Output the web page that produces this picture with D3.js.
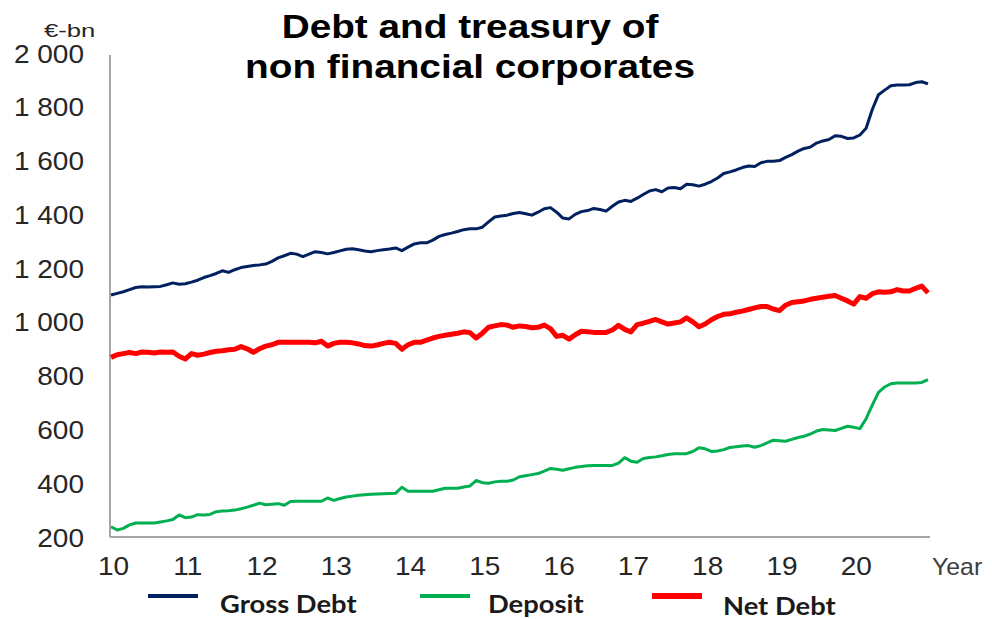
<!DOCTYPE html>
<html>
<head>
<meta charset="utf-8">
<script src="https://cdn.jsdelivr.net/npm/d3@7"></script>
<style>
  body { margin: 0; background: #fff; }
  .tick_label { font-family: "Liberation Sans", Arial, sans-serif; font-size: 25px; fill: #262626; }
  .title { font-family: "Liberation Sans", Arial, sans-serif; font-size: 34px; font-weight: bold; fill: #000; }
  .legend_label { font-family: Lato, "Open Sans", sans-serif; font-size: 24px; font-weight: bold; fill: #1a1a1a; }
</style>
</head>
<body>
<div id="vis"></div>
<script>
// monthly values, Jan 2010 -> Jan 2021 (EUR bn)
var gross_debt = [
  1100,1106,1112,1120,1128,1131,1130,1131,1132,1138,1145,1140,
  1142,1148,1155,1165,1172,1180,1190,1184,1194,1202,1206,1210,
  1212,1215,1225,1238,1246,1255,1252,1243,1252,1261,1258,1253,
  1258,1264,1270,1272,1268,1264,1261,1265,1268,1271,1275,1265,
  1278,1290,1294,1294,1304,1318,1325,1330,1336,1343,1346,1346,
  1352,1372,1390,1394,1397,1403,1407,1402,1397,1408,1421,1425,
  1408,1386,1383,1400,1410,1414,1422,1418,1412,1430,1446,1452,
  1448,1460,1474,1487,1492,1484,1498,1500,1495,1512,1510,1505,
  1512,1522,1535,1552,1558,1565,1574,1580,1578,1592,1597,1597,
  1600,1612,1622,1635,1645,1650,1665,1673,1678,1692,1690,1682,
  1684,1695,1720,1790,1845,1862,1878,1881,1881,1882,1890,1893,
  1885
];
var deposit = [
  238,226,232,245,252,252,252,252,256,260,265,282,
  272,274,283,282,284,294,297,298,300,305,311,318,
  326,320,322,324,318,332,333,333,333,333,333,345,
  336,343,349,352,355,357,359,360,361,362,363,385,
  370,370,370,370,370,376,381,381,381,386,390,410,
  402,400,405,407,407,412,424,428,432,436,445,455,
  452,448,454,459,462,465,466,466,466,466,475,495,
  482,478,492,496,498,502,507,510,510,510,518,532,
  528,518,520,525,533,536,538,540,534,540,550,560,
  558,556,563,570,575,583,594,600,598,596,604,612,
  608,603,640,690,738,758,770,773,773,773,773,775,
  785
];
var net_debt = [
  868,878,882,886,882,888,887,884,888,887,888,872,
  862,882,876,880,886,891,893,896,898,908,900,887,
  900,910,915,924,924,924,924,924,924,922,928,910,
  920,924,924,922,918,912,910,914,920,924,920,898,
  915,924,924,932,940,946,950,954,958,963,960,940,
  958,980,985,990,988,980,985,983,978,980,988,975,
  946,950,936,952,965,963,961,961,961,970,987,972,
  963,990,995,1002,1009,1000,992,996,1000,1015,1000,982,
  992,1008,1020,1028,1030,1036,1040,1046,1052,1057,1057,1048,
  1042,1062,1072,1075,1078,1084,1088,1092,1095,1098,1088,1078,
  1066,1094,1088,1105,1112,1110,1112,1120,1115,1115,1125,1133,
  1108
];
var year_ticks = [2010,2011,2012,2013,2014,2015,2016,2017,2018,2019,2020];
var year_labels = ["10","11","12","13","14","15","16","17","18","19","20"];
var value_ticks = [200,400,600,800,1000,1200,1400,1600,1800,2000];
var series_names = ["Gross Debt", "Deposit", "Net Debt"];
var series_colors = ["#002060", "#00b050", "#ff0000"];
var series_widths = [3, 3, 5];

var width = 992, height = 619;
var stretch = 1.12; // the source picture is a bit wider than tall

var svg = d3.select("#vis")
    .append("svg")
    .attr("width", width)
    .attr("height", height);

var xScale = d3.scaleLinear()
    .domain([2010, 2021])
    .range([111, 928]);

var yScale = d3.scaleLinear()
    .domain([200, 2000])
    .range([537, 53]);

var series = [gross_debt, deposit, net_debt];

// axes lines (no tick marks)
var xAxis = d3.axisBottom(xScale)
    .tickValues(year_ticks)
    .tickSize(0)
    .tickFormat(function(d, i) { return year_labels[i]; });

var gx = svg.append("g")
    .attr("transform", "translate(0," + yScale(200) + ")")
    .call(xAxis);
gx.select(".domain").attr("stroke", "#a6a6a6").attr("stroke-width", 2)
    .attr("d", "M110,0H930");
gx.selectAll("text")
    .attr("class", "tick_label")
    .attr("dy", null)
    .attr("y", 38)
    .attr("x", 0)
    .attr("transform", "translate(2,0) scale(" + stretch + ",1)")
    .attr("fill", null);

var yAxis = d3.axisLeft(yScale)
    .tickValues(value_ticks)
    .tickSize(0)
    .tickFormat(function(d) { return d3.format(",")(d).replace(",", " "); });

var gy = svg.append("g")
    .attr("transform", "translate(110,0)")
    .call(yAxis);
gy.select(".domain").attr("stroke", "#a6a6a6").attr("stroke-width", 2)
    .attr("d", "M0,55V" + yScale(200));
gy.selectAll("text")
    .attr("class", "tick_label")
    .attr("x", 0)
    .attr("transform", "translate(-26,0) scale(" + stretch + ",1)")
    .attr("dy", "0.36em")
    .attr("fill", null);

svg.append("text")
    .attr("class", "tick_label")
    .attr("transform", "translate(44,37) scale(1.35,1)")
    .style("font-size", "19px")
    .text("€-bn");

svg.append("text")
    .attr("class", "tick_label")
    .attr("transform", "translate(932,575) scale(1.08,1)")
    .style("font-size", "23px")
    .style("fill", "#404040")
    .text("Year");

// lines
var line = d3.line()
    .x(function(d, i) { return xScale(2010 + i / 12); })
    .y(function(d) { return yScale(d); });

svg.selectAll(".series")
    .data(series)
    .enter()
    .append("path")
    .attr("class", "series")
    .attr("fill", "none")
    .attr("stroke", function(d, i) { return series_colors[i]; })
    .attr("stroke-width", function(d, i) { return series_widths[i]; })
    .attr("stroke-linejoin", "round")
    .attr("d", line);

// title
svg.append("text")
    .attr("class", "title")
    .attr("transform", "translate(470,38) scale(1.14,1)")
    .attr("text-anchor", "middle")
    .text("Debt and treasury of");
svg.append("text")
    .attr("class", "title")
    .attr("transform", "translate(470,78) scale(1.14,1)")
    .attr("text-anchor", "middle")
    .text("non financial corporates");

// legend
var legend_x = [148, 420, 652];
var legend_text_x = [220, 488, 723];
var legend = svg.selectAll(".legend")
    .data(series_names)
    .enter()
    .append("g")
    .attr("class", "legend");

legend.append("line")
    .attr("x1", function(d, i) { return legend_x[i]; })
    .attr("x2", function(d, i) { return legend_x[i] + 50; })
    .attr("y1", 596)
    .attr("y2", 596)
    .attr("stroke", function(d, i) { return series_colors[i]; })
    .attr("stroke-width", function(d, i) { return series_widths[i] + 1; });

legend.append("text")
    .attr("class", "legend_label")
    .attr("transform", function(d, i) {
        return "translate(" + legend_text_x[i] + "," + (i == 2 ? 615 : 613) + ") scale(1.14,1)";
    })
    .text(function(d) { return d; });
</script>
</body>
</html>
